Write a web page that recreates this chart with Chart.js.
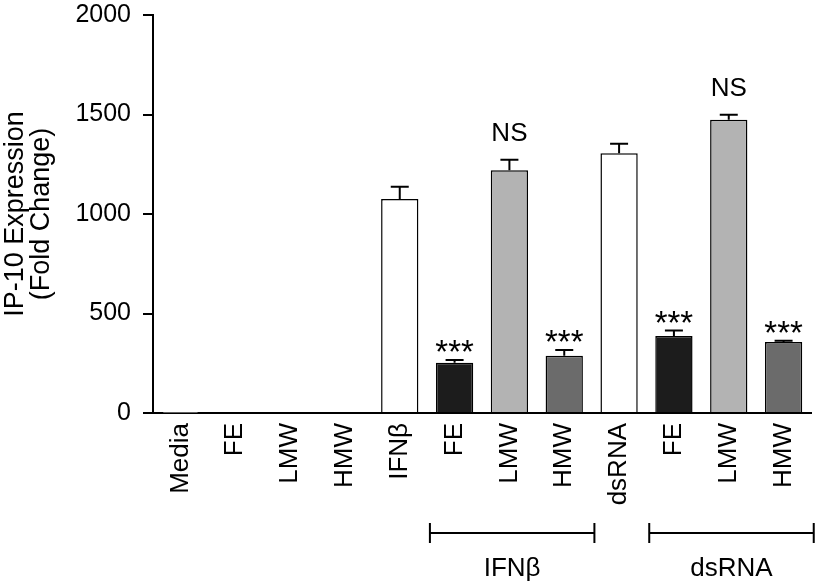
<!DOCTYPE html>
<html>
<head>
<meta charset="utf-8">
<script src="https://cdn.jsdelivr.net/npm/chart.js@4/dist/chart.umd.min.js"></script>
<style>
  html, body { margin: 0; padding: 0; background: #fff; }
  #wrap { width: 819px; height: 585px; }
</style>
</head>
<body>
<div id="wrap"><canvas id="ipChart"></canvas></div>
<script>
// categories and values
const labels = ['Media', 'FE', 'LMW', 'HMW', 'IFNβ', 'FE', 'LMW', 'HMW', 'dsRNA', 'FE', 'LMW', 'HMW'];
const means = [1, 5, 5, 5, 1075, 253, 1220, 288, 1305, 387, 1474, 357];
const errors = [0, 1, 1, 1, 62, 13, 53, 29, 48, 27, 25, 6];
const marks = ['', '', '', '', '', '***', 'NS', '***', '', '***', 'NS', '***'];
const barColors = ['#ffffff', '#1c1c1c', '#b3b3b3', '#6b6b6b', '#ffffff', '#1c1c1c', '#b3b3b3', '#6b6b6b', '#ffffff', '#1c1c1c', '#b3b3b3', '#6b6b6b'];
const yTicks = [0, 500, 1000, 1500, 2000];
// group brackets under the x axis: first index, last index, label
const groups = [
  { from: 5, to: 7, label: 'IFNβ' },
  { from: 9, to: 11, label: 'dsRNA' }
];

const FONT = 'Arial, "Liberation Sans", Helvetica, sans-serif';
const FS = 26;

// error bars + significance marks
const errorBarPlugin = {
  id: 'errorBars',
  afterDatasetsDraw(chart) {
    const ctx = chart.ctx;
    const y = chart.scales.y;
    const meta = chart.getDatasetMeta(0);
    ctx.save();
    ctx.strokeStyle = '#000';
    ctx.lineWidth = 2;
    meta.data.forEach((bar, i) => {
      const top = y.getPixelForValue(means[i] + errors[i]);
      if (errors[i] > 1) {
        ctx.beginPath();
        ctx.moveTo(bar.x, bar.y);
        ctx.lineTo(bar.x, top);
        ctx.moveTo(bar.x - 9, top);
        ctx.lineTo(bar.x + 9, top);
        ctx.stroke();
      }
      if (marks[i]) {
        ctx.fillStyle = '#000';
        ctx.textAlign = 'center';
        ctx.textBaseline = 'alphabetic';
        if (marks[i] === 'NS') {
          ctx.font = FS + 'px ' + FONT;
          ctx.fillText(marks[i], bar.x, top - 19);
        } else {
          ctx.font = '33px ' + FONT;
          ctx.fillText(marks[i], bar.x, top + 3);
        }
      }
    });
    ctx.restore();
  }
};

// brackets with group names below the rotated labels
const bracketPlugin = {
  id: 'brackets',
  afterDraw(chart) {
    const ctx = chart.ctx;
    const x = chart.scales.x;
    const step = x.getPixelForValue(1) - x.getPixelForValue(0);
    ctx.save();
    ctx.strokeStyle = '#000';
    ctx.lineWidth = 2;
    ctx.fillStyle = '#000';
    ctx.font = FS + 'px ' + FONT;
    ctx.textAlign = 'center';
    ctx.textBaseline = 'middle';
    groups.forEach(g => {
      const x0 = x.getPixelForValue(g.from) - step * 0.45;
      const x1 = x.getPixelForValue(g.to) + step * 0.55;
      const yy = 533;
      ctx.beginPath();
      ctx.moveTo(x0, yy); ctx.lineTo(x1, yy);
      ctx.moveTo(x0, yy - 10); ctx.lineTo(x0, yy + 10);
      ctx.moveTo(x1, yy - 10); ctx.lineTo(x1, yy + 10);
      ctx.stroke();
      ctx.fillText(g.label, (x0 + x1) / 2, 569);
    });
    ctx.restore();
  }
};

new Chart(document.getElementById('ipChart'), {
  type: 'bar',
  data: {
    labels: labels,
    datasets: [{
      data: means,
      backgroundColor: barColors,
      borderColor: '#000',
      borderWidth: 1.5,
      borderSkipped: 'bottom',
      barPercentage: 0.68,
      categoryPercentage: 1.0
    }]
  },
  options: {
    responsive: true,
    maintainAspectRatio: false,
    animation: false,
    layout: { padding: { top: 15, right: 8, left: 0, bottom: 0 } },
    plugins: { legend: { display: false }, tooltip: { enabled: false } },
    scales: {
      x: {
        grid: { display: true, drawOnChartArea: false, drawTicks: false },
        border: { color: '#000', width: 2 },
        ticks: {
          color: '#000',
          font: { family: FONT, size: FS },
          minRotation: 90,
          maxRotation: 90,
          padding: 10,
          autoSkip: false
        },
        afterFit(scale) { scale.height = 172; scale.paddingLeft = 0; scale.paddingRight = 0; }
      },
      y: {
        min: 0,
        max: 2000,
        afterBuildTicks(scale) { scale.ticks = yTicks.map(v => ({ value: v })); },
        grid: { display: true, drawOnChartArea: false, drawTicks: true, tickLength: 10, color: '#000', lineWidth: 2 },
        border: { color: '#000', width: 2 },
        ticks: {
          color: '#000',
          font: { family: FONT, size: 25 },
          padding: 12,
          callback: v => String(v)
        },
        title: {
          display: true,
          text: ['IP-10 Expression', '(Fold Change)'],
          color: '#000',
          font: { family: FONT, size: 27, lineHeight: 0.97 },
          padding: { top: 2, bottom: 8 }
        },
        afterFit(scale) { scale.width = 153; scale.paddingTop = 0; scale.paddingBottom = 0; }
      }
    }
  },
  plugins: [errorBarPlugin, bracketPlugin]
});
</script>
</body>
</html>
